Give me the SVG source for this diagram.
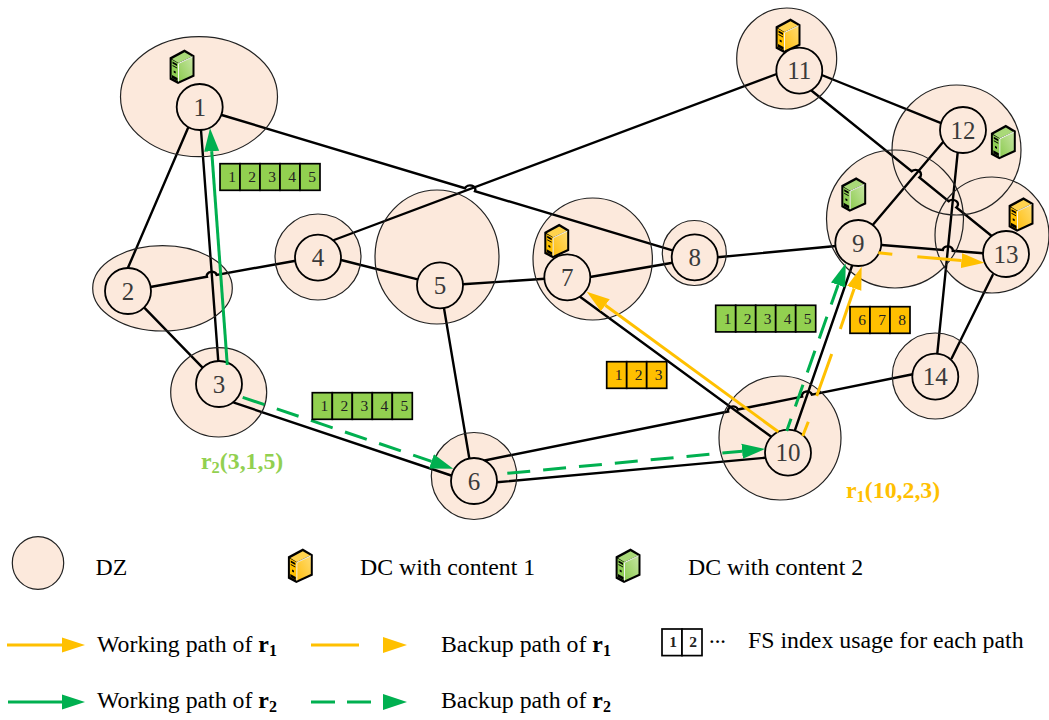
<svg xmlns="http://www.w3.org/2000/svg" xmlns:xlink="http://www.w3.org/1999/xlink" width="1049" height="720" viewBox="0 0 1049 720">
<style>
text{font-family:"Liberation Serif","Times New Roman",serif;fill:#000}
.zf{fill:#fce9dc;stroke:none}
.zo{fill:none;stroke:#222;stroke-width:1.2}
.n{fill:#fce9dc;stroke:#000;stroke-width:1.8}
.nl{font-size:25px;fill:#3a3a3a;text-anchor:middle}
.lk{fill:none;stroke:#000;stroke-width:2.4;stroke-linecap:round}
.o{fill:none;stroke:#ffc000;stroke-width:3}
.g{fill:none;stroke:#00b050;stroke-width:3}
.d{stroke-dasharray:23 13}
.ao{marker-end:url(#hO)}
.ag{marker-end:url(#hG)}
.cg{fill:#92d050;stroke:#000;stroke-width:1.7}
.co{fill:#ffc000;stroke:#000;stroke-width:1.7}
.cw{fill:#fff;stroke:#000;stroke-width:1.7}
.cl{font-size:15.5px;fill:#222;text-anchor:middle}
.lg{font-size:23.8px}
.sub{font-size:16px;font-weight:bold}
.b{font-weight:bold}
.lo{font-size:23.8px;font-weight:bold;fill:#ffc000}
.lgn{font-size:23.8px;font-weight:bold;fill:#92d050}
.lo .s,.lgn .s{font-size:16.5px}
</style>
<defs>
<marker id="hO" markerUnits="userSpaceOnUse" markerWidth="24" markerHeight="16" refX="0" refY="8" orient="auto"><path d="M0 0.5L23 8L0 15.5z" fill="#ffc000"/></marker>
<marker id="hG" markerUnits="userSpaceOnUse" markerWidth="24" markerHeight="16" refX="0" refY="8" orient="auto"><path d="M0 0.5L23 8L0 15.5z" fill="#00b050"/></marker>
<linearGradient id="gO" x1="0" y1="1" x2="1" y2="0"><stop offset="0" stop-color="#ffbe10"/><stop offset="1" stop-color="#ffdc70"/></linearGradient>
<linearGradient id="gG" x1="0" y1="1" x2="1" y2="0"><stop offset="0" stop-color="#8ccb50"/><stop offset="1" stop-color="#c6e5a2"/></linearGradient>
<g id="iconParts">
<path d="M3.5 11.5L8 14V16L3.5 13.5zM3.5 15L8 17.5V18.5L3.5 16zM4.7 20.5L6.7 21.6V23.6L4.7 22.5zM3 25L8.5 28V31L3 28z" fill="#000"/>
<path d="M9.5 13.5L23.5 6.8M9.5 13.5V31.5" stroke="#fff" stroke-width="0.9" fill="none"/>
</g>
<g id="dcO"><path d="M15.5 -0.5L25.5 5.5V26.5L9 34L0.6 29.4V7.6z" fill="#000"/><path d="M3 9L15.5 2.2L23 6.6L9.5 13z" fill="#ffd34d"/><path d="M9.5 13.5L23.5 6.8V25L9.5 31.5z" fill="url(#gO)"/><path d="M2.6 9.6L9.5 13.5V31.5L2.6 27.8z" fill="#ffc000"/><use xlink:href="#iconParts" href="#iconParts"/></g>
<g id="dcG"><path d="M15.5 -0.5L25.5 5.5V26.5L9 34L0.6 29.4V7.6z" fill="#000"/><path d="M3 9L15.5 2.2L23 6.6L9.5 13z" fill="#a9d978"/><path d="M9.5 13.5L23.5 6.8V25L9.5 31.5z" fill="url(#gG)"/><path d="M2.6 9.6L9.5 13.5V31.5L2.6 27.8z" fill="#8fce55"/><use xlink:href="#iconParts" href="#iconParts"/></g>
</defs>
<rect width="1049" height="720" fill="#fff"/>
<g id="zone-fills">
<ellipse class="zf" cx="199" cy="96.7" rx="78.5" ry="60"/>
<ellipse class="zf" cx="162.5" cy="288.3" rx="69.8" ry="42.7"/>
<ellipse class="zf" cx="218.7" cy="392.3" rx="48" ry="44.7"/>
<ellipse class="zf" cx="318" cy="257" rx="43" ry="43"/>
<ellipse class="zf" cx="437" cy="257" rx="62" ry="67"/>
<ellipse class="zf" cx="474" cy="476" rx="42.7" ry="43.5"/>
<ellipse class="zf" cx="592.7" cy="259" rx="59.7" ry="61"/>
<ellipse class="zf" cx="694.3" cy="253" rx="32" ry="32.5"/>
<ellipse class="zf" cx="895" cy="219" rx="68.5" ry="69"/>
<ellipse class="zf" cx="780" cy="438" rx="61" ry="62"/>
<ellipse class="zf" cx="786.7" cy="58.5" rx="50" ry="50.5"/>
<ellipse class="zf" cx="956.5" cy="150" rx="64.5" ry="65"/>
<ellipse class="zf" cx="992" cy="235" rx="57" ry="58"/>
<ellipse class="zf" cx="935.3" cy="376" rx="43" ry="43"/>
</g>
<g id="connectors">
<path class="lk" d="M188 128L127 270"/>
<path class="lk" d="M201 130L218.3 361.7"/>
<path class="lk" d="M221.7 115L465 188.2A5 4 0 0 1 475 191.2L673.3 250.7"/>
<path class="lk" d="M145 308.3L202.3 367.3"/>
<path class="lk" d="M151.7 286.7L206.9 276.7A5 4 0 0 1 216.7 274.9L295.7 260.7"/>
<path class="lk" d="M341 260L417.7 279.3"/>
<path class="lk" d="M334 240L776.7 74"/>
<path class="lk" d="M444 308.3L469.3 458.3"/>
<path class="lk" d="M462.7 284.3L545 278.7"/>
<path class="lk" d="M590 277L672.7 262.7"/>
<path class="lk" d="M580 296.7L773 438"/>
<path class="lk" d="M717.3 257.3L836 246"/>
<path class="lk" d="M852.3 265L795 430"/>
<path class="lk" d="M872.7 225L943.3 141.7"/>
<path class="lk" d="M881.7 245L942.8 250A5 4 0 0 1 952.8 250.8L983.3 253.3"/>
<path class="lk" d="M483.3 460.7L728.1 411.5A5 4 0 0 1 737.9 409.5L802.1 396.6A5 4 0 0 1 811.9 394.6L912.7 374.3"/>
<path class="lk" d="M496.7 482.3L765.7 457.7"/>
<path class="lk" d="M234 402.7L452.7 476"/>
<path class="lk" d="M821.7 75L941.7 123.3"/>
<path class="lk" d="M811.7 90.7L911.6 171.3A5 4 0 0 1 919.4 177.5L948.6 201.2A5 4 0 0 1 956.4 207.4L991.7 236"/>
<path class="lk" d="M957.7 152.3L937.3 353.3"/>
<path class="lk" d="M992.7 275L951.7 358.3"/>
</g>
<g id="node-1"><ellipse class="zo" cx="199" cy="96.7" rx="78.5" ry="60"/><use href="#dcG" xlink:href="#dcG" x="169" y="50"/><circle class="n" cx="199.7" cy="107" r="23"/><text class="nl" x="199.7" y="115.5">1</text></g>
<g id="node-2"><ellipse class="zo" cx="162.5" cy="288.3" rx="69.8" ry="42.7"/><circle class="n" cx="128" cy="291" r="23"/><text class="nl" x="128" y="299.5">2</text></g>
<g id="node-3"><ellipse class="zo" cx="218.7" cy="392.3" rx="48" ry="44.7"/><circle class="n" cx="219" cy="384" r="23"/><text class="nl" x="219" y="392.5">3</text></g>
<g id="node-4"><ellipse class="zo" cx="318" cy="257" rx="43" ry="43"/><circle class="n" cx="318" cy="257.7" r="23"/><text class="nl" x="318" y="266">4</text></g>
<g id="node-5"><ellipse class="zo" cx="437" cy="257" rx="62" ry="67"/><circle class="n" cx="440" cy="285.3" r="23"/><text class="nl" x="440" y="293.8">5</text></g>
<g id="node-6"><ellipse class="zo" cx="474" cy="476" rx="42.7" ry="43.5"/><circle class="n" cx="474" cy="481" r="23"/><text class="nl" x="474" y="489.5">6</text></g>
<g id="node-7"><ellipse class="zo" cx="592.7" cy="259" rx="59.7" ry="61"/><use href="#dcO" xlink:href="#dcO" x="543.7" y="224.3"/><circle class="n" cx="567.3" cy="277.3" r="23"/><text class="nl" x="567.3" y="285.8">7</text></g>
<g id="node-8"><ellipse class="zo" cx="694.3" cy="253" rx="32" ry="32.5"/><circle class="n" cx="694.7" cy="257.3" r="23"/><text class="nl" x="694.7" y="265.8">8</text></g>
<g id="node-9"><ellipse class="zo" cx="895" cy="219" rx="68.5" ry="69"/><use href="#dcG" xlink:href="#dcG" x="840.7" y="177.7"/><circle class="n" cx="858.3" cy="243" r="23"/><text class="nl" x="858.3" y="251.5">9</text></g>
<g id="node-10"><ellipse class="zo" cx="780" cy="438" rx="61" ry="62"/><circle class="n" cx="788" cy="452.7" r="23"/><text class="nl" x="788" y="461.2">10</text></g>
<g id="node-11"><ellipse class="zo" cx="786.7" cy="58.5" rx="50" ry="50.5"/><use href="#dcO" xlink:href="#dcO" x="775" y="19"/><circle class="n" cx="799.3" cy="70.7" r="23"/><text class="nl" x="799.3" y="79.2">11</text></g>
<g id="node-12"><ellipse class="zo" cx="956.5" cy="150" rx="64.5" ry="65"/><use href="#dcG" xlink:href="#dcG" x="990.3" y="125.3"/><circle class="n" cx="963" cy="130" r="23"/><text class="nl" x="963" y="138.5">12</text></g>
<g id="node-13"><ellipse class="zo" cx="992" cy="235" rx="57" ry="58"/><use href="#dcO" xlink:href="#dcO" x="1008" y="197.7"/><circle class="n" cx="1006" cy="254" r="23"/><text class="nl" x="1006" y="262.5">13</text></g>
<g id="node-14"><ellipse class="zo" cx="935.3" cy="376" rx="43" ry="43"/><circle class="n" cx="935.3" cy="376.7" r="23"/><text class="nl" x="935.3" y="385.2">14</text></g>
<g id="paths">
<path class="g ag" d="M227.3 365L211.7 151.2"/>
<path class="g d ag" d="M242.7 397.3L431.5 461.3"/>
<path class="g d ag" d="M507.3 473.3L742.1 451.2"/>
<path class="g d ag" d="M786.7 431L838.1 285" stroke-dashoffset="10"/>
<path class="o ao" d="M778.3 431.7L605.3 305.3"/>
<path class="o" d="M802.7 436L808.3 421.7M816.7 396L831.7 354"/>
<path class="o ao" d="M840.3 329L854.2 288.4"/>
<path class="o" d="M878.3 252.7L892.3 254.3"/>
<path class="o ao" d="M917.3 256.7L961.4 260.6"/>
</g>
<g id="fs-1"><rect class="cg" x="220" y="163.7" width="20" height="26.6"/><rect class="cg" x="240" y="163.7" width="20" height="26.6"/><rect class="cg" x="260" y="163.7" width="20" height="26.6"/><rect class="cg" x="280" y="163.7" width="20" height="26.6"/><rect class="cg" x="300" y="163.7" width="20" height="26.6"/><text class="cl" x="232" y="182.3">1</text><text class="cl" x="252" y="182.3">2</text><text class="cl" x="272" y="182.3">3</text><text class="cl" x="292" y="182.3">4</text><text class="cl" x="312" y="182.3">5</text></g>
<g id="fs-2"><rect class="cg" x="312.3" y="392.7" width="20" height="26.6"/><rect class="cg" x="332.3" y="392.7" width="20" height="26.6"/><rect class="cg" x="352.3" y="392.7" width="20" height="26.6"/><rect class="cg" x="372.3" y="392.7" width="20" height="26.6"/><rect class="cg" x="392.3" y="392.7" width="20" height="26.6"/><text class="cl" x="324.3" y="411.3">1</text><text class="cl" x="344.3" y="411.3">2</text><text class="cl" x="364.3" y="411.3">3</text><text class="cl" x="384.3" y="411.3">4</text><text class="cl" x="404.3" y="411.3">5</text></g>
<g id="fs-3"><rect class="cg" x="715.7" y="305.3" width="20" height="26.6"/><rect class="cg" x="735.7" y="305.3" width="20" height="26.6"/><rect class="cg" x="755.7" y="305.3" width="20" height="26.6"/><rect class="cg" x="775.7" y="305.3" width="20" height="26.6"/><rect class="cg" x="795.7" y="305.3" width="20" height="26.6"/><text class="cl" x="727.7" y="323.9">1</text><text class="cl" x="747.7" y="323.9">2</text><text class="cl" x="767.7" y="323.9">3</text><text class="cl" x="787.7" y="323.9">4</text><text class="cl" x="807.7" y="323.9">5</text></g>
<g id="fs-4"><rect class="co" x="850" y="306.7" width="20" height="26.6"/><rect class="co" x="870" y="306.7" width="20" height="26.6"/><rect class="co" x="890" y="306.7" width="20" height="26.6"/><text class="cl" x="862" y="325.3">6</text><text class="cl" x="882" y="325.3">7</text><text class="cl" x="902" y="325.3">8</text></g>
<g id="fs-5"><rect class="co" x="606.7" y="361.7" width="20" height="26.6"/><rect class="co" x="626.7" y="361.7" width="20" height="26.6"/><rect class="co" x="646.7" y="361.7" width="20" height="26.6"/><text class="cl" x="618.7" y="380.3">1</text><text class="cl" x="638.7" y="380.3">2</text><text class="cl" x="658.7" y="380.3">3</text></g>
<text class="lgn" x="201" y="469">r<tspan class="s" dy="4">2</tspan><tspan dy="-4">(3,1,5)</tspan></text>
<text class="lo" x="846" y="498">r<tspan class="s" dy="4">1</tspan><tspan dy="-4">(10,2,3)</tspan></text>
<g id="legend">
<ellipse class="zf" cx="38" cy="563" rx="25.7" ry="26.3"/><ellipse class="zo" cx="38" cy="563" rx="25.7" ry="26.3"/>
<text class="lg" x="95.5" y="575">DZ</text>
<use href="#dcO" xlink:href="#dcO" x="287.3" y="549"/>
<text class="lg" x="360" y="575">DC with content 1</text>
<use href="#dcG" xlink:href="#dcG" x="615" y="549"/>
<text class="lg" x="688" y="575">DC with content 2</text>
<path class="o ao" d="M7 645H62"/>
<text class="lg" x="97" y="652">Working path of <tspan class="b">r</tspan><tspan class="sub" dy="4">1</tspan></text>
<path class="o" d="M311 645H359"/><path d="M383 637L407 645L383 653z" fill="#ffc000"/>
<text class="lg" x="441" y="652">Backup path of <tspan class="b">r</tspan><tspan class="sub" dy="4">1</tspan></text>
<path class="g ag" d="M8 702H62"/>
<text class="lg" x="97" y="708">Working path of <tspan class="b">r</tspan><tspan class="sub" dy="4">2</tspan></text>
<path class="g" d="M311 702H335M347 702H371"/><path d="M383 694L407 702L383 710z" fill="#00b050"/>
<text class="lg" x="441" y="708">Backup path of <tspan class="b">r</tspan><tspan class="sub" dy="4">2</tspan></text>
<rect class="cw" x="662" y="629" width="20" height="26.6"/><rect class="cw" x="682" y="629" width="20" height="26.6"/>
<text class="cl" x="673" y="647" font-weight="bold">1</text><text class="cl" x="693" y="647" font-weight="bold">2</text>
<text x="709" y="647" font-size="17" font-weight="bold">···</text>
<text class="lg" x="748" y="648">FS index usage for each path</text>
</g>
</svg>
